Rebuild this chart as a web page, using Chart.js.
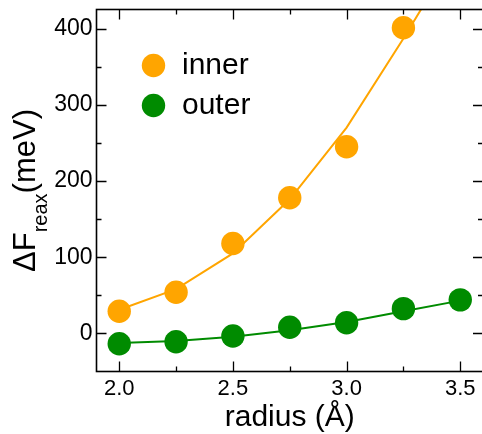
<!DOCTYPE html>
<html>
<head>
<meta charset="utf-8">
<script src="https://cdn.jsdelivr.net/npm/chart.js@4.4.1/dist/chart.umd.min.js"></script>
<style>
  html, body { margin: 0; padding: 0; background: #fff; overflow: hidden; }
  #wrap { width: 486px; height: 434px; }
</style>
</head>
<body>
<div id="wrap"><canvas id="c" width="486" height="434"></canvas></div>
<script>
// ---- data ----
const radius = [2.0, 2.25, 2.5, 2.75, 3.0, 3.25, 3.5];
const innerPoints = [29, 54, 118, 178, 245, 401];          // measured (no 3.5 value shown)
const outerPoints = [-13.5, -11, -3.5, 8, 14, 32.5, 44];
const innerFit = [31, 58, 105, 176, 270, 387, 510];
const outerFit = [-12.5, -10, -4.5, 4, 15, 29, 43];
const xMajorTicks = [2.0, 2.5, 3.0, 3.5];
const xMinorTicks = [2.25, 2.75, 3.25];
const yMajorTicks = [0, 100, 200, 300, 400];
const yMinorTicks = [50, 150, 250, 350];
const seriesNames = ['inner', 'outer'];
const colors = { inner: '#FFA500', outer: '#008B00' };

const toXY = (ys) => ys.map((y, i) => ({ x: radius[i], y }));

const FONT = "'Liberation Sans', Arial, Helvetica, sans-serif";

const noPad = s => { s.paddingTop = 0; s.paddingBottom = 0; s.paddingLeft = 0; s.paddingRight = 0; };

const framePlugin = {
  id: 'frame',
  afterDatasetsDraw(chart) {
    const { ctx, chartArea: a, scales: { x, y } } = chart;
    ctx.save();
    ctx.strokeStyle = '#000';
    ctx.lineWidth = 1.3;
    ctx.beginPath();
    const tick = (px, isX, len) => {
      if (isX) {
        ctx.moveTo(px, a.bottom); ctx.lineTo(px, a.bottom - len);
        ctx.moveTo(px, a.top); ctx.lineTo(px, a.top + len);
      } else {
        ctx.moveTo(a.left, px); ctx.lineTo(a.left + len, px);
        ctx.moveTo(a.right, px); ctx.lineTo(a.right - len, px);
      }
    };
    xMajorTicks.forEach(v => tick(Math.round(x.getPixelForValue(v)) + 0.5, true, 10));
    xMinorTicks.forEach(v => tick(Math.round(x.getPixelForValue(v)) + 0.5, true, 5));
    yMajorTicks.forEach(v => tick(Math.round(y.getPixelForValue(v)) + 0.5, false, 10));
    yMinorTicks.forEach(v => tick(Math.round(y.getPixelForValue(v)) + 0.5, false, 5));
    ctx.stroke();
    ctx.lineWidth = 1.6;
    ctx.strokeRect(a.left, a.top, a.right - a.left, a.bottom - a.top);

    // legend inside plot
    const lx = a.left + 57, ly0 = a.top + 56, dy = 40;
    seriesNames.forEach((name, i) => {
      const cy = ly0 + i * dy;
      ctx.fillStyle = colors[name];
      ctx.beginPath(); ctx.arc(lx, cy, 11.7, 0, Math.PI * 2); ctx.fill();
      ctx.fillStyle = '#000';
      ctx.font = '30px ' + FONT;
      ctx.textBaseline = 'middle';
      ctx.textAlign = 'left';
      ctx.fillText(name, lx + 28.5, cy);
    });

    // y axis title with subscript
    const mainFont = '31px ' + FONT, subFont = '20px ' + FONT;
    ctx.font = mainFont; const w1 = ctx.measureText('ΔF').width; const w3 = ctx.measureText('(meV)').width;
    ctx.font = subFont; const w2 = ctx.measureText('reax').width;
    const total = w1 + w2 + w3;
    ctx.translate(35, (a.top + a.bottom) / 2);
    ctx.rotate(-Math.PI / 2);
    ctx.textBaseline = 'alphabetic';
    ctx.textAlign = 'left';
    let px = -total / 2;
    ctx.font = mainFont; ctx.fillText('ΔF', px, 0); px += w1;
    ctx.font = subFont; ctx.fillText('reax', px, 12); px += w2;
    ctx.font = mainFont; ctx.fillText('(meV)', px, 0);
    ctx.restore();
  }
};

new Chart(document.getElementById('c'), {
  type: 'scatter',
  data: {
    datasets: [
      { label: 'inner', data: toXY(innerPoints), backgroundColor: colors.inner, borderWidth: 0,
        pointRadius: 11.7, pointHoverRadius: 11.7, showLine: false, order: 0 },
      { label: 'outer', data: toXY(outerPoints), backgroundColor: colors.outer, borderWidth: 0,
        pointRadius: 11.7, pointHoverRadius: 11.7, showLine: false, order: 0 },
      { label: 'inner fit', data: toXY(innerFit), borderColor: colors.inner, borderWidth: 2,
        pointRadius: 0, showLine: true, tension: 0, fill: false, order: 1 },
      { label: 'outer fit', data: toXY(outerFit), borderColor: colors.outer, borderWidth: 2,
        pointRadius: 0, showLine: true, tension: 0, fill: false, order: 1 }
    ]
  },
  options: {
    responsive: false,
    animation: false,
    devicePixelRatio: 1,
    layout: { autoPadding: false, padding: { top: 9.5, right: 3, left: 0, bottom: 0 } },
    plugins: { legend: { display: false }, tooltip: { enabled: false } },
    scales: {
      x: {
        type: 'linear', min: 1.9, max: 3.6,
        afterBuildTicks: s => { s.ticks = xMajorTicks.map(v => ({ value: v })); },
        afterFit: s => { s.height = 62.5; noPad(s); },
        grid: { display: false, drawTicks: false },
        border: { display: false },
        ticks: { padding: 4, color: '#000', font: { family: FONT, size: 22 },
                 callback: v => Number(v).toFixed(1), maxRotation: 0 },
        title: { display: true, text: 'radius (Å)', color: '#000',
                 font: { family: FONT, size: 30 }, padding: { top: 0, bottom: -2 } }
      },
      y: {
        type: 'linear', min: -50, max: 425,
        afterBuildTicks: s => { s.ticks = yMajorTicks.map(v => ({ value: v })); },
        afterFit: s => { s.width = 96.5; noPad(s); },
        grid: { display: false, drawTicks: false },
        border: { display: false },
        ticks: { padding: 4, color: '#000', font: { family: FONT, size: 23 } }
      }
    }
  },
  plugins: [framePlugin]
});
</script>
</body>
</html>
